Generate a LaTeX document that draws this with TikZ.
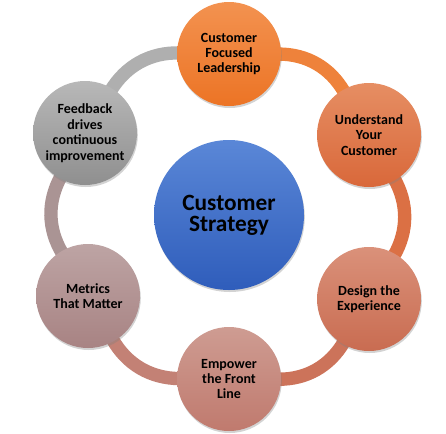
\documentclass[tikz,border=0pt]{standalone}
\usepackage{fontspec}
\setmainfont{Carlito}
\usetikzlibrary{shadows,backgrounds}

\definecolor{leadtop}{HTML}{F39250}
\definecolor{leadbot}{HTML}{EC7425}
\definecolor{knowtop}{HTML}{E68E63}
\definecolor{knowbot}{HTML}{D9683A}
\definecolor{designtop}{HTML}{DA917A}
\definecolor{designbot}{HTML}{C96C51}
\definecolor{empowertop}{HTML}{CE9C92}
\definecolor{empowerbot}{HTML}{C07A6E}
\definecolor{metricstop}{HTML}{BDA4A4}
\definecolor{metricsbot}{HTML}{A88383}
\definecolor{feedtop}{HTML}{B8B8B8}
\definecolor{feedbot}{HTML}{8F8F8F}
\definecolor{strattop}{HTML}{5A87D7}
\definecolor{stratbot}{HTML}{2F5DBB}

\begin{document}
\begin{tikzpicture}[x=0.75pt,y=0.75pt,
    stage/.style={circle,minimum size=78pt,inner sep=0pt,align=center,
        font=\bfseries\fontsize{10.5}{11.6}\selectfont,
        drop shadow={shadow xshift=0.6pt,shadow yshift=-1.5pt,opacity=0.35}},
    hub/.style={circle,minimum size=112.5pt,inner sep=0pt,align=center,
        font=\bfseries\fontsize{17.5}{16}\selectfont,
        drop shadow={shadow xshift=0.6pt,shadow yshift=-1.5pt,opacity=0.35}},
    ring/.style={line width=10pt,bend left=30,looseness=0.92,
        shorten <=-2pt,shorten >=-2pt,
        preaction={draw=black,opacity=0.2,transform canvas={shift={(0.6pt,-1.2pt)}}}}]

        \useasboundingbox (0,0) rectangle (446,-433);

        % nodes
        \node [stage,top color=leadtop,bottom color=leadbot] (lead) at (229,-54) {Customer\\Focused\\Leadership};
        \node [stage,top color=knowtop,bottom color=knowbot] (know) at (369,-135) {Understand\\Your\\Customer};
        \node [stage,top color=designtop,bottom color=designbot] (design) at (369,-299) {Design the\\Experience};
        \node [stage,top color=empowertop,bottom color=empowerbot] (empower) at (229,-379) {Empower\\the Front\\Line};
        \node [stage,top color=metricstop,bottom color=metricsbot] (metrics) at (88,-296) {Metrics\\That Matter};
        \node [stage,top color=feedtop,bottom color=feedbot] (feedback) at (85,-133) {Feedback\\drives\\continuous\\improvement};

        \node [hub,top color=strattop,bottom color=stratbot] (strat) at (229,-215) {Customer\\Strategy};

        % ring
        \begin{scope}[on background layer]
        \draw [ring,draw=leadbot!90!white] (lead) to (know);
        \draw [ring,draw=knowbot!95!white] (know) to (design);
        \draw [ring,draw=designbot!95!white] (design) to (empower);
        \draw [ring,draw=empowerbot!95!white] (empower) to (metrics);
        \draw [ring,draw=metricstop!90!black] (metrics) to (feedback);
        \draw [ring,draw=feedtop!95!black] (feedback) to (lead);
        \end{scope}
    \end{tikzpicture}
\end{document}
